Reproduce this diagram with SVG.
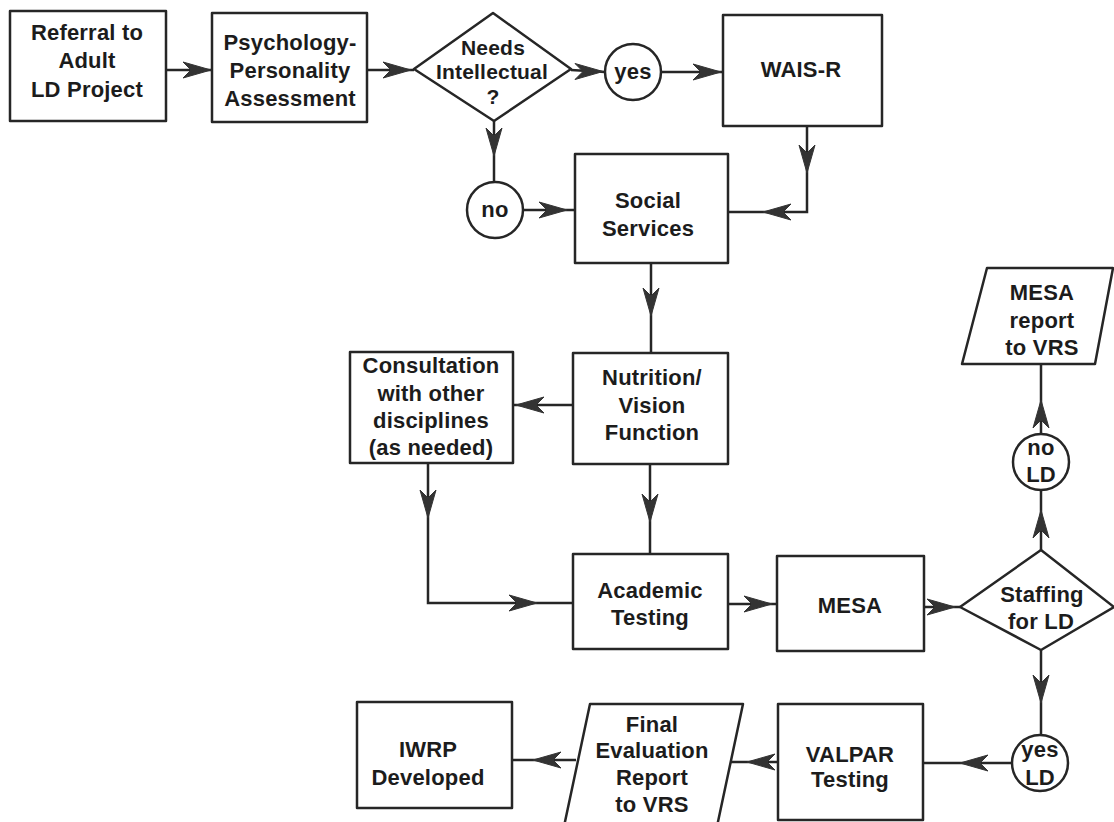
<svg xmlns="http://www.w3.org/2000/svg" xmlns:xlink="http://www.w3.org/1999/xlink" width="1114" height="822" viewBox="0 0 1114 822">
<style>
.n{fill:#fff;stroke:#262626;stroke-width:2.5;stroke-linejoin:round}
.t{font-family:"Liberation Sans",Arial,sans-serif;font-weight:bold;font-size:22px;fill:#1c1c1c;text-anchor:middle;letter-spacing:0.2px}
.d{font-size:21px}
.c{fill:none;stroke:#262626;stroke-width:2.5}
.ah{fill:#333;stroke:#333;stroke-width:1;stroke-linejoin:round}
</style>
<defs>
<path id="ah" class="ah" d="M0,0 L-28,-8 L-20,0 L-28,8 Z"/>
</defs>
<rect width="1114" height="822" fill="#fff"/>
<g id="connectors">
<path class="c" d="M166,70 H212"/>
<path class="c" d="M367,70 H414"/>
<path class="c" d="M571,70 L605,72"/>
<path class="c" d="M661,72 H723"/>
<path class="c" d="M494,121 V182"/>
<path class="c" d="M523,210 H575"/>
<path class="c" d="M807,126 V212 H728"/>
<path class="c" d="M651,263 V353"/>
<path class="c" d="M573,405 H513"/>
<path class="c" d="M650,464 V554"/>
<path class="c" d="M428,463 V603 H573"/>
<path class="c" d="M728,604 H777"/>
<path class="c" d="M924,607 H960"/>
<path class="c" d="M1041,550 V490"/>
<path class="c" d="M1041,434 V364"/>
<path class="c" d="M1041,650 V735"/>
<path class="c" d="M1012,763 H923"/>
<path class="c" d="M778,762 H730"/>
<path class="c" d="M576,760 H512"/>
<use xlink:href="#ah" transform="translate(211,70)"/>
<use xlink:href="#ah" transform="translate(411,70)"/>
<use xlink:href="#ah" transform="translate(603,71.5)"/>
<use xlink:href="#ah" transform="translate(721,72)"/>
<use xlink:href="#ah" transform="translate(494,156) rotate(90)"/>
<use xlink:href="#ah" transform="translate(567,210)"/>
<use xlink:href="#ah" transform="translate(807,173) rotate(90)"/>
<use xlink:href="#ah" transform="translate(763,212) rotate(180)"/>
<use xlink:href="#ah" transform="translate(651,316) rotate(90)"/>
<use xlink:href="#ah" transform="translate(516,405) rotate(180)"/>
<use xlink:href="#ah" transform="translate(650,522) rotate(90)"/>
<use xlink:href="#ah" transform="translate(428,518) rotate(90)"/>
<use xlink:href="#ah" transform="translate(537,603)"/>
<use xlink:href="#ah" transform="translate(772,604)"/>
<use xlink:href="#ah" transform="translate(955,607)"/>
<use xlink:href="#ah" transform="translate(1041,510) rotate(-90)"/>
<use xlink:href="#ah" transform="translate(1041,400) rotate(-90)"/>
<use xlink:href="#ah" transform="translate(1041,703) rotate(90)"/>
<use xlink:href="#ah" transform="translate(960,763) rotate(180)"/>
<use xlink:href="#ah" transform="translate(747,762) rotate(180)"/>
<use xlink:href="#ah" transform="translate(533,760) rotate(180)"/>
</g>
<g id="referral">
<rect class="n" x="10" y="11" width="156" height="110"/>
<text class="t" x="87" y="40">Referral to</text>
<text class="t" x="87" y="68">Adult</text>
<text class="t" x="87" y="97">LD Project</text>
</g>
<g id="psych">
<rect class="n" x="212" y="13" width="155" height="109"/>
<text class="t" x="290" y="50">Psychology-</text>
<text class="t" x="290" y="78">Personality</text>
<text class="t" x="290" y="106">Assessment</text>
</g>
<g id="needs-intellectual">
<polygon class="n" points="493,13 571,69 494,121 414,69"/>
<text class="t d" x="493" y="55">Needs</text>
<text class="t d" x="492" y="79">Intellectual</text>
<text class="t d" x="493" y="104">?</text>
</g>
<g id="yes1">
<circle class="n" cx="633" cy="72" r="28"/>
<text class="t" x="633" y="79">yes</text>
</g>
<g id="wais">
<rect class="n" x="723" y="15" width="159" height="111"/>
<text class="t" x="801" y="77">WAIS-R</text>
</g>
<g id="no1">
<circle class="n" cx="495" cy="210" r="28"/>
<text class="t" x="495" y="217">no</text>
</g>
<g id="social">
<rect class="n" x="575" y="154" width="153" height="109"/>
<text class="t" x="648" y="208">Social</text>
<text class="t" x="648" y="236">Services</text>
</g>
<g id="nutrition">
<rect class="n" x="573" y="353" width="155" height="111"/>
<text class="t" x="652" y="385">Nutrition/</text>
<text class="t" x="652" y="413">Vision</text>
<text class="t" x="652" y="440">Function</text>
</g>
<g id="consultation">
<rect class="n" x="350" y="352" width="163" height="111"/>
<text class="t" x="431" y="373">Consultation</text>
<text class="t" x="431" y="401">with other</text>
<text class="t" x="431" y="428">disciplines</text>
<text class="t" x="431" y="455">(as needed)</text>
</g>
<g id="academic">
<rect class="n" x="573" y="554" width="155" height="95"/>
<text class="t" x="650" y="598">Academic</text>
<text class="t" x="650" y="625">Testing</text>
</g>
<g id="mesa">
<rect class="n" x="777" y="556" width="147" height="95"/>
<text class="t" x="850" y="613">MESA</text>
</g>
<g id="staffing">
<polygon class="n" points="1041,550 1114,607 1041,650 960,607"/>
<text class="t" x="1042" y="602">Staffing</text>
<text class="t" x="1041" y="629">for LD</text>
</g>
<g id="noLD">
<circle class="n" cx="1041" cy="462" r="28"/>
<text class="t" x="1041" y="455">no</text>
<text class="t" x="1041" y="482">LD</text>
</g>
<g id="mesa-report">
<polygon class="n" points="987,268 1113,268 1095,364 962,364"/>
<text class="t" x="1042" y="300">MESA</text>
<text class="t" x="1042" y="328">report</text>
<text class="t" x="1042" y="355">to VRS</text>
</g>
<g id="yesLD">
<circle class="n" cx="1040" cy="763" r="28"/>
<text class="t" x="1040" y="757">yes</text>
<text class="t" x="1040" y="785">LD</text>
</g>
<g id="valpar">
<rect class="n" x="778" y="704" width="145" height="116"/>
<text class="t" x="850" y="762">VALPAR</text>
<text class="t" x="850" y="787">Testing</text>
</g>
<g id="final">
<polygon class="n" points="590,704 743,704 712,850 559,850"/>
<text class="t" x="652" y="732">Final</text>
<text class="t" x="652" y="758">Evaluation</text>
<text class="t" x="652" y="785">Report</text>
<text class="t" x="652" y="812">to VRS</text>
</g>
<g id="iwrp">
<rect class="n" x="357" y="702" width="155" height="106"/>
<text class="t" x="428" y="757">IWRP</text>
<text class="t" x="428" y="785">Developed</text>
</g>
</svg>
